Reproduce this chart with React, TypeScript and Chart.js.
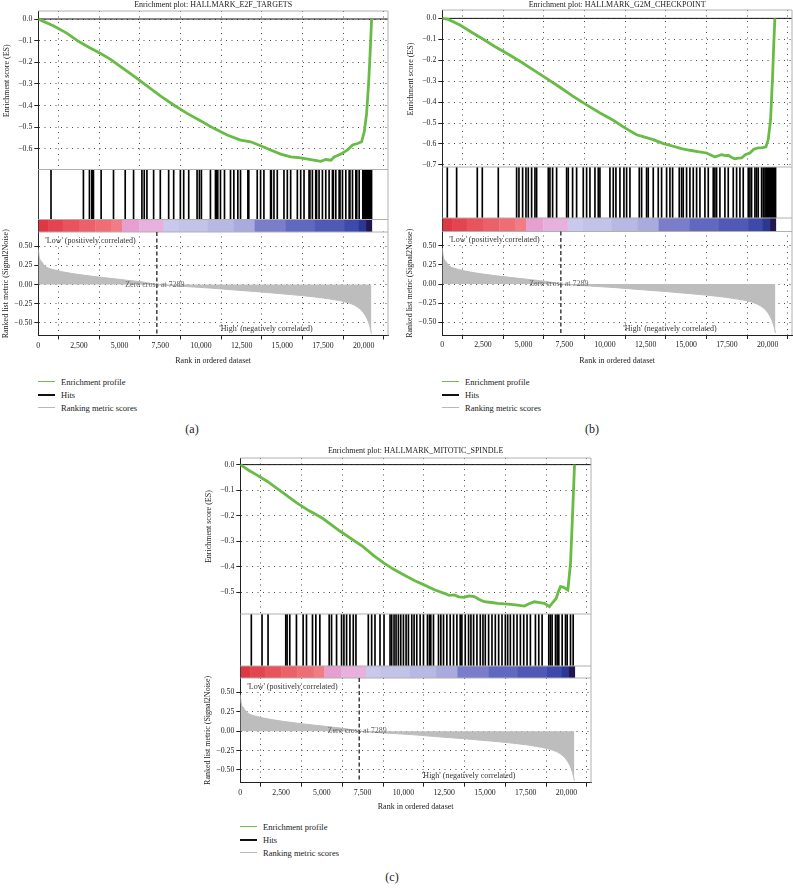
import React, { useEffect, useRef } from "react";
import { Chart, registerables } from "chart.js";
Chart.register(...registerables);

const FONT = '"Liberation Serif", "Times New Roman", serif';

// ---------- shared data (same ranked list in all three panels) ----------
const X_MAX = 21500;
const X_TICKS = [0, 2500, 5000, 7500, 10000, 12500, 15000, 17500, 20000];
const ZERO_CROSS = 7289;
const RANK_MIN = -0.665;
const RANK_MAX = 0.685;

const RANK_X = [0, 50, 200, 450, 1000, 1500, 2500, 4000, 5500, 6500, 7289, 8800, 10500, 12100, 13700, 15350, 17000, 18250, 19000, 19600, 20000, 20280, 20400, 20480];
const RANK_Y = [0.47, 0.37, 0.3, 0.235, 0.19, 0.165, 0.13, 0.09, 0.055, 0.03, 0, -0.023, -0.045, -0.072, -0.097, -0.128, -0.162, -0.2, -0.235, -0.29, -0.37, -0.48, -0.56, -0.64];

const COLOR_EDGES = [0, 600, 1500, 2500, 3500, 4500, 5150, 6200, 7700, 8600, 10400, 12000, 13300, 15200, 17000, 18800, 19700, 20150, 20500];
const COLOR_FILLS = ["#df3744", "#e4444f", "#e8535c", "#ec6169", "#ef6e76", "#f17c83", "#e79fcf", "#e8b0dc", "#cac8ec", "#c3c3e9", "#b8b8e4", "#a9aade", "#7a7dca", "#6168bf", "#5059b6", "#3d4aab", "#2b3893", "#23164f"];

const LEGEND_LABELS = ["Enrichment profile", "Hits", "Ranking metric scores"];
const LEGEND_COLORS = ["#6dbf4b", "#111111", "#b8b8b8"];

// ---------- panel (a) ----------
const TITLE_A = "Enrichment plot: HALLMARK_E2F_TARGETS";
const ES_A_X = [0, 308, 925, 1747, 2467, 3186, 3803, 4419, 5036, 5857, 6679, 7503, 8324, 9147, 9967, 10791, 11611, 12436, 13049, 13669, 14282, 14902, 15517, 16136, 16753, 17369, 17678, 17986, 18192, 18603, 19014, 19322, 19630, 19877, 20041, 20185, 20308, 20411, 20493];
const ES_A_Y = [0, -0.011, -0.031, -0.065, -0.103, -0.134, -0.158, -0.185, -0.219, -0.263, -0.309, -0.355, -0.397, -0.436, -0.47, -0.505, -0.536, -0.559, -0.567, -0.585, -0.605, -0.624, -0.637, -0.641, -0.649, -0.657, -0.649, -0.652, -0.637, -0.624, -0.605, -0.582, -0.575, -0.567, -0.521, -0.436, -0.297, -0.142, 0];
const HITS_A = [781, 2774, 3144, 3288, 3340, 3391, 3863, 4624, 5343, 5857, 6371, 6514, 6679, 7090, 7501, 8015, 8323, 8734, 8939, 9248, 9761, 9905, 10028, 10583, 10892, 10950, 11035, 11200, 11447, 11817, 12022, 12268, 12433, 12885, 12940, 13460, 13666, 13871, 14282, 14330, 14488, 14693, 15104, 15310, 15515, 15926, 16132, 16337, 16646, 16700, 16851, 17057, 17110, 17262, 17468, 17673, 17879, 18084, 18140, 18290, 18495, 18550, 18701, 18906, 19112, 19160, 19317, 19523, 19580, 19728, 19950, 20000, 20050, 20100, 20150, 20200, 20250, 20300, 20350, 20400, 20450, 20490];

// ---------- panel (b) ----------
const TITLE_B = "Enrichment plot: HALLMARK_G2M_CHECKPOINT";
const ES_B_X = [0, 369, 1086, 1800, 2520, 3200, 3955, 4800, 5594, 6400, 7233, 8000, 8872, 9700, 10511, 11200, 11946, 12400, 12970, 13600, 14200, 14700, 15224, 15700, 16249, 16761, 17000, 17170, 17400, 17580, 17800, 17990, 18200, 18400, 18650, 18912, 19150, 19425, 19700, 19896, 20039, 20183, 20306, 20380, 20449];
const ES_B_Y = [0, -0.005, -0.032, -0.066, -0.1, -0.133, -0.167, -0.206, -0.246, -0.287, -0.329, -0.37, -0.413, -0.452, -0.487, -0.522, -0.556, -0.566, -0.579, -0.598, -0.611, -0.622, -0.63, -0.636, -0.643, -0.662, -0.655, -0.651, -0.656, -0.654, -0.665, -0.671, -0.668, -0.667, -0.65, -0.643, -0.625, -0.619, -0.617, -0.614, -0.579, -0.484, -0.278, -0.12, 0];
const HITS_B = [307, 881, 2151, 2459, 3442, 4569, 4713, 4938, 5143, 5286, 5491, 5696, 5799, 6516, 6618, 6782, 7028, 7643, 7745, 8011, 8257, 8667, 8872, 9077, 9384, 9589, 9691, 10306, 10511, 10675, 10921, 11167, 11331, 11536, 12110, 12253, 12560, 12663, 12970, 13277, 13482, 13790, 13995, 14159, 14568, 14712, 14814, 15019, 15224, 15429, 15634, 15839, 16146, 16351, 16658, 16761, 16863, 17068, 17375, 17580, 17888, 18093, 18298, 18502, 18810, 18912, 19015, 19220, 19322, 19425, 19630, 19732, 19835, 19900, 19950, 20000, 20050, 20100, 20150, 20200, 20250, 20300, 20350, 20400, 20450, 20490];

// ---------- panel (c) ----------
const TITLE_C = "Enrichment plot: HALLMARK_MITOTIC_SPINDLE";
const ES_C_X = [0, 512, 1000, 1639, 2500, 3483, 4200, 5020, 6147, 7520, 8200, 8810, 9400, 10040, 10700, 11269, 11900, 12498, 12800, 13113, 13400, 13728, 14000, 14343, 14650, 14958, 15400, 15778, 16200, 16597, 17000, 17417, 17700, 18032, 18350, 18646, 18954, 19150, 19363, 19500, 19630, 19800, 19917, 20081, 20245, 20348, 20430, 20491];
const ES_C_Y = [0, -0.022, -0.04, -0.065, -0.105, -0.151, -0.18, -0.209, -0.262, -0.321, -0.357, -0.386, -0.41, -0.432, -0.455, -0.471, -0.49, -0.504, -0.512, -0.51, -0.518, -0.52, -0.514, -0.517, -0.528, -0.537, -0.54, -0.543, -0.545, -0.547, -0.55, -0.554, -0.545, -0.537, -0.54, -0.543, -0.556, -0.54, -0.524, -0.498, -0.478, -0.48, -0.484, -0.491, -0.386, -0.229, -0.098, 0];
const HITS_C = [676, 1332, 1701, 2787, 2869, 3033, 3442, 3852, 4057, 4426, 4631, 4877, 5450, 5594, 5901, 6208, 6352, 6516, 6721, 6926, 7090, 7848, 8053, 8257, 8565, 8811, 9180, 9282, 9426, 9549, 9692, 9836, 10000, 10163, 10307, 10512, 10655, 10819, 11024, 11229, 11474, 11597, 11679, 11843, 12151, 12294, 12458, 12663, 12868, 13073, 13278, 13482, 13585, 13790, 13995, 14138, 14302, 14507, 14712, 14876, 15019, 15224, 15429, 15634, 15839, 16044, 16249, 16392, 16556, 16761, 16966, 17171, 17376, 17580, 17785, 18093, 18298, 18502, 18912, 19015, 19117, 19322, 19425, 19527, 19732, 19937, 20039, 20244, 20408];

type PanelCfg = {
  key: string; left: number; top: number; width: number; height: number; padRight: number;
  titlePadBottom: number; weights: number[]; xAxisH: number; esMin: number; esMax: number;
  title: string; esX: number[]; esY: number[]; hits: number[];
};

const PANELS: PanelCfg[] = [
  { key: "a", left: 0, top: 0, width: 392, height: 366, padRight: 4, titlePadBottom: 1.4, weights: [158.5, 50, 12.5, 103.5], xAxisH: 30.5, esMin: -0.695, esMax: 0.037, title: TITLE_A, esX: ES_A_X, esY: ES_A_Y, hits: HITS_A },
  { key: "b", left: 404, top: 0, width: 389, height: 366, padRight: 1, titlePadBottom: 0.4, weights: [157, 51, 13.5, 103.5], xAxisH: 31, esMin: -0.71, esMax: 0.04, title: TITLE_B, esX: ES_B_X, esY: ES_B_Y, hits: HITS_B },
  { key: "c", left: 202, top: 446, width: 392, height: 366, padRight: 3, titlePadBottom: 2.4, weights: [156, 52, 12, 104.7], xAxisH: 29.3, esMin: -0.585, esMax: 0.026, title: TITLE_C, esX: ES_C_X, esY: ES_C_Y, hits: HITS_C },
];

const LEGENDS = [
  { left: 38, top: 382 },
  { left: 442, top: 382 },
  { left: 240, top: 827 },
];
const PANEL_LABELS = [
  { text: "(a)", x: 192, y: 429 },
  { text: "(b)", x: 592, y: 429 },
  { text: "(c)", x: 392, y: 877 },
];

const withCommas = (v: number) => String(Math.round(v)).replace(/\B(?=(\d{3})+(?!\d))/g, ",");
const signed = (v: number, d: number) => {
  const r = Number(v.toFixed(d));
  return (r < 0 ? "\u2212" : "") + Math.abs(r).toFixed(d);
};

const Y_WIDTH = 38.3;
const GRID_COLOR = "#4a4a4a";
const DOT = [1, 4.5];
const TXT = "#222";

function makePlugin(cfg: PanelCfg) {
  return {
    id: "gsea_" + cfg.key,
    beforeDatasetsDraw(chart: any) {
      const { ctx, chartArea: ca, scales } = chart;
      const x = scales.x, yE = scales.y, yH = scales.yHits, yC = scales.yColor;
      ctx.save();
      ctx.fillStyle = "#fff";
      ctx.fillRect(ca.left + 0.6, yH.top + 0.5, ca.right - ca.left - 0.6, yC.bottom - yH.top - 1);
      for (let i = 0; i < COLOR_FILLS.length; i++) {
        const x0 = Math.max(x.getPixelForValue(COLOR_EDGES[i]), ca.left + 0.6);
        const x1 = x.getPixelForValue(COLOR_EDGES[i + 1]);
        ctx.fillStyle = COLOR_FILLS[i];
        ctx.fillRect(x0, yC.top, x1 - x0 + 0.4, yC.bottom - yC.top);
      }
      const y0 = yE.getPixelForValue(0);
      ctx.strokeStyle = "#111";
      ctx.lineWidth = 1;
      ctx.beginPath();
      ctx.moveTo(ca.left, y0);
      ctx.lineTo(ca.right, y0);
      ctx.stroke();
      ctx.restore();
    },
    afterDatasetsDraw(chart: any) {
      const { ctx, chartArea: ca, scales } = chart;
      const x = scales.x, yE = scales.y, yH = scales.yHits, yC = scales.yColor, yR = scales.yRank;
      ctx.save();
      ctx.strokeStyle = "#b0b0b0";
      ctx.lineWidth = 1;
      ctx.beginPath();
      ctx.moveTo(ca.left, ca.top); ctx.lineTo(ca.right, ca.top);
      ctx.moveTo(ca.right, ca.top); ctx.lineTo(ca.right, ca.bottom);
      ctx.moveTo(ca.left, yE.bottom); ctx.lineTo(ca.right, yE.bottom);
      ctx.moveTo(ca.left, yH.bottom); ctx.lineTo(ca.right, yH.bottom);
      ctx.moveTo(ca.left, yC.bottom); ctx.lineTo(ca.right, yC.bottom);
      ctx.stroke();

      const xz = x.getPixelForValue(ZERO_CROSS);
      ctx.strokeStyle = "#111";
      ctx.lineWidth = 1.2;
      ctx.setLineDash([4, 2.5]);
      ctx.beginPath();
      ctx.moveTo(xz, yR.top);
      ctx.lineTo(xz, yR.bottom);
      ctx.stroke();
      ctx.setLineDash([]);

      ctx.font = `8px ${FONT}`;
      ctx.textBaseline = "middle";
      ctx.fillStyle = "#333";
      ctx.textAlign = "left";
      ctx.fillText("'Low' (positively correlated)", ca.left + 7, yR.top + 8.5);
      ctx.textAlign = "center";
      ctx.fillStyle = "#666";
      ctx.fillText("Zero cross at " + ZERO_CROSS, xz - 2, yR.getPixelForValue(0));
      ctx.fillStyle = "#333";
      ctx.fillText("'High' (negatively correlated)", x.getPixelForValue(14000), yR.bottom - 6.5);

      // ES axis title (sits a little above the centre of the ES box in the original)
      ctx.save();
      ctx.translate(6.5, yE.top + (yE.bottom - yE.top) * 0.44);
      ctx.rotate(-Math.PI / 2);
      ctx.fillStyle = TXT;
      ctx.font = `8px ${FONT}`;
      ctx.textAlign = "center";
      ctx.textBaseline = "middle";
      ctx.fillText("Enrichment score (ES)", 0, 0);
      ctx.restore();
      ctx.restore();
    },
  };
}

function GseaPanel({ cfg }: { cfg: PanelCfg }) {
  const ref = useRef<HTMLCanvasElement | null>(null);
  useEffect(() => {
    const canvas = ref.current;
    if (!canvas) return;
    const tickFont = { family: FONT, size: 7.8 };
    const titleFont = { family: FONT, size: 8 };
    const fixW = (s: any) => { s.width = Y_WIDTH; };
    const chart = new Chart(canvas, {
      type: "line",
      data: {
        datasets: [
          {
            type: "line",
            label: "Enrichment profile",
            data: cfg.esX.map((v, i) => ({ x: v, y: cfg.esY[i] })),
            yAxisID: "y",
            borderColor: "#68bc45",
            borderWidth: 2.8,
            pointRadius: 0,
            tension: 0,
            fill: false,
          },
          {
            type: "bar",
            label: "Hits",
            data: cfg.hits.map((v) => ({ x: v, y: 1 })),
            yAxisID: "yHits",
            backgroundColor: "#000",
            borderWidth: 0,
            barThickness: 1,
          },
          {
            type: "line",
            label: "Ranking metric scores",
            data: RANK_X.map((v, i) => ({ x: v, y: RANK_Y[i] })),
            yAxisID: "yRank",
            borderColor: "#bdbdbd",
            borderWidth: 1,
            backgroundColor: "#bdbdbd",
            fill: "origin",
            pointRadius: 0,
            cubicInterpolationMode: "monotone",
          },
        ] as any,
      },
      options: {
        animation: false,
        responsive: false,
        devicePixelRatio: 1,
        events: [],
        layout: { padding: { left: 0, right: cfg.padRight, top: 0, bottom: 0 } },
        plugins: {
          legend: { display: false },
          tooltip: { enabled: false },
          title: {
            display: true,
            text: cfg.title,
            fullSize: false,
            align: "center",
            color: TXT,
            font: { family: FONT, size: 8, weight: "normal" },
            padding: { top: 0, bottom: cfg.titlePadBottom },
          },
        },
        scales: {
          x: {
            type: "linear",
            min: 0,
            max: X_MAX,
            offset: false,
            afterBuildTicks: (s: any) => { s.ticks = X_TICKS.map((v) => ({ value: v })); },
            ticks: {
              autoSkip: false,
              maxRotation: 0,
              padding: 1.5,
              color: TXT,
              font: tickFont,
              callback: (v: any) => withCommas(Number(v)),
            },
            grid: { color: GRID_COLOR, lineWidth: 1, tickLength: 4, tickColor: "#222", tickWidth: 1 },
            border: { display: true, color: "#222", width: 1, dash: DOT },
            title: { display: true, text: "Rank in ordered dataset", color: TXT, font: titleFont, padding: { top: 0, bottom: 0 } },
            afterFit: (s: any) => { s.height = cfg.xAxisH; },
          },
          y: {
            type: "linear",
            position: "left",
            stack: "gsea",
            stackWeight: cfg.weights[0],
            weight: 4,
            min: cfg.esMin,
            max: cfg.esMax,
            ticks: { stepSize: 0.1, includeBounds: false, padding: 2, color: TXT, font: tickFont, callback: (v: any) => signed(Number(v), 1) },
            grid: { color: GRID_COLOR, lineWidth: 1, tickLength: 4, tickColor: "#222", tickWidth: 1 },
            border: { display: true, color: "#222", width: 1, dash: DOT },
            title: { display: false },
            afterFit: fixW,
          },
          yHits: {
            type: "linear",
            position: "left",
            stack: "gsea",
            stackWeight: cfg.weights[1],
            weight: 3,
            min: 0,
            max: 1,
            ticks: { display: false },
            grid: { display: false },
            border: { display: true, color: "#222", width: 1 },
            afterFit: fixW,
          },
          yColor: {
            type: "linear",
            position: "left",
            stack: "gsea",
            stackWeight: cfg.weights[2],
            weight: 2,
            min: 0,
            max: 1,
            ticks: { display: false },
            grid: { display: false },
            border: { display: true, color: "#222", width: 1 },
            afterFit: fixW,
          },
          yRank: {
            type: "linear",
            position: "left",
            stack: "gsea",
            stackWeight: cfg.weights[3],
            weight: 1,
            min: RANK_MIN,
            max: RANK_MAX,
            ticks: { stepSize: 0.25, includeBounds: false, padding: 2, color: TXT, font: tickFont, callback: (v: any) => signed(Number(v), 2) },
            grid: { color: GRID_COLOR, lineWidth: 1, tickLength: 4, tickColor: "#222", tickWidth: 1 },
            border: { display: true, color: "#222", width: 1, dash: DOT },
            title: { display: true, text: "Ranked list metric (Signal2Noise)", color: TXT, font: titleFont, padding: { top: 1.5, bottom: 0 } },
            afterFit: fixW,
          },
        } as any,
      },
      plugins: [makePlugin(cfg) as any],
    });
    return () => chart.destroy();
  }, [cfg]);
  return (
    <canvas
      ref={ref}
      width={cfg.width}
      height={cfg.height}
      style={{ position: "absolute", left: cfg.left, top: cfg.top, width: cfg.width, height: cfg.height }}
    />
  );
}

function Legend({ left, top }: { left: number; top: number }) {
  return (
    <>
      {LEGEND_LABELS.map((lab, i) => {
        const y = top + i * 13;
        return (
          <React.Fragment key={lab}>
            <div style={{ position: "absolute", left, top: y - 1, width: 17, height: i === 1 ? 2 : 1, background: LEGEND_COLORS[i] }} />
            <div style={{ position: "absolute", left: left + 23, top: y - 6, height: 12, lineHeight: "12px", fontSize: 8.5, color: TXT, fontFamily: FONT, whiteSpace: "nowrap" }}>{lab}</div>
          </React.Fragment>
        );
      })}
    </>
  );
}

export default function App() {
  return (
    <div style={{ position: "absolute", left: 0, top: 0, width: 793, height: 895, background: "#fff", fontFamily: FONT, overflow: "hidden" }}>
      {PANELS.map((p) => (
        <GseaPanel key={p.key} cfg={p} />
      ))}
      {LEGENDS.map((l, i) => (
        <Legend key={i} left={l.left} top={l.top} />
      ))}
      {PANEL_LABELS.map((l) => (
        <div key={l.text} style={{ position: "absolute", left: l.x - 20, top: l.y - 8, width: 40, height: 16, lineHeight: "16px", textAlign: "center", fontSize: 12, color: TXT, fontFamily: FONT }}>{l.text}</div>
      ))}
    </div>
  );
}
